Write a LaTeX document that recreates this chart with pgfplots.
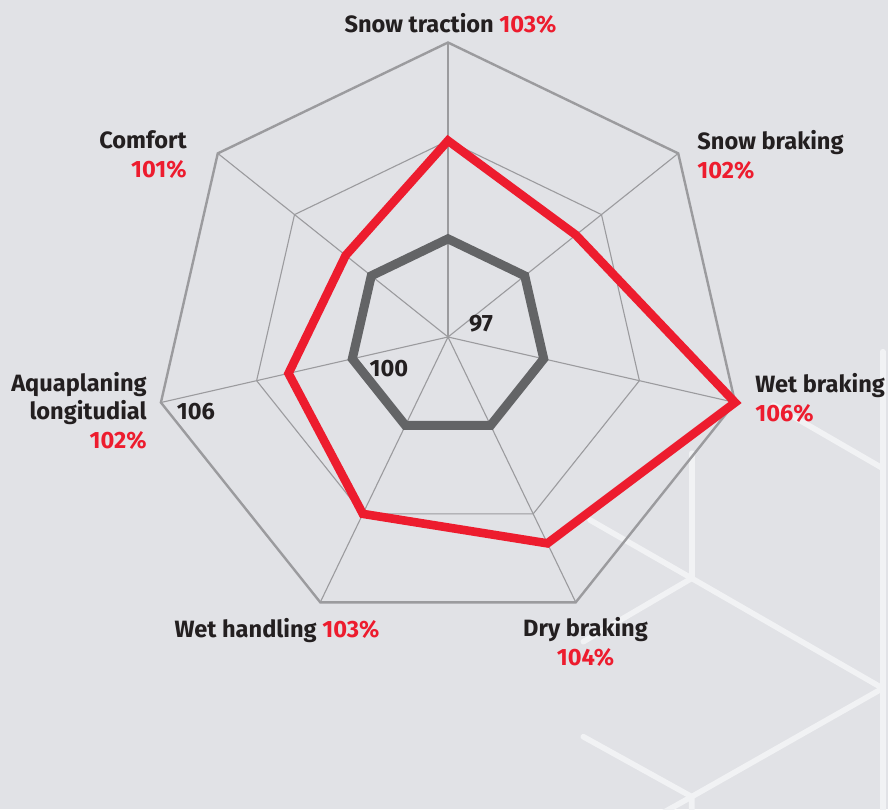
\documentclass[border=0pt]{standalone}
\usepackage{pgfplots}
\pgfplotsset{compat=1.18}
\usepackage{pgfplotstable}
\usepackage{fontspec}
\setmainfont{Fira Sans}
\definecolor{bg}{HTML}{E1E2E6}
\definecolor{tred}{HTML}{ED1C2E}
\definecolor{dgray}{HTML}{636466}
\definecolor{ggray}{HTML}{9B9B9E}
\definecolor{txt}{HTML}{231F20}
\definecolor{deco}{HTML}{F1F2F4}

% angle (deg) of each axis, tyre result, reference (100)
\pgfplotstableread{
a v r
90 103 100
38.5714 102 100
-12.8571 106 100
-64.2857 104 100
-115.7143 103 100
-167.1429 102 100
141.4286 101 100
90 103 100
38.5714 102 100
}\radar

\begin{document}
\begin{tikzpicture}
\path[use as bounding box] (0,0) rectangle (444pt,404.5pt);
\fill[bg] (0,0) rectangle (444pt,404.5pt);
\begin{scope}[shift={(0pt,404.5pt)}, x=0.5pt, y=-0.5pt]
\begin{scope}[draw=deco, line width=2.8pt, line cap=round, line join=round]
\draw (882.7,351.7) -- (882.7,830);
\draw (773.3,405) -- (882.7,468.3);
\draw (691.7,453.3) -- (691.7,578.3);
\draw (590,520) -- (691.7,578.3) -- (882.7,688.3);
\draw (691.7,578.3) -- (583.3,641.7);
\draw (882.7,688.3) -- (691.7,796.7) -- (650,820);
\draw (583.3,736.7) -- (691.7,796.7) -- (691.7,830);
\end{scope}
\end{scope}

\begin{axis}[at={(0,0)}, anchor=south west, width=444pt, height=404.5pt,
  scale only axis, xmin=-448, xmax=440, ymin=-472, ymax=337,
  axis lines=none, clip=false]
\pgfplotsinvokeforeach{90,38.5714,-12.8571,-64.2857,-115.7143,-167.1429,141.4286}{
  \draw[ggray, line width=0.55pt] (axis cs:0,0) -- (axis cs:{294.5*cos(#1)},{294.5*sin(#1)});
}
% outer ring (106)
\addplot[ggray, line width=1.2pt, line join=miter, no markers]
  table[x expr={(106-97)*32.72*cos(\thisrow{a})}, y expr={(106-97)*32.72*sin(\thisrow{a})}] {\radar};
% middle ring (103)
\addplot[ggray, line width=0.55pt, line join=miter, no markers]
  table[x expr={(103-97)*32.72*cos(\thisrow{a})}, y expr={(103-97)*32.72*sin(\thisrow{a})}] {\radar};
% reference 100
\addplot[dgray, line width=4.5pt, line join=miter, no markers]
  table[x expr={(\thisrow{r}-97)*32.72*cos(\thisrow{a})}, y expr={(\thisrow{r}-97)*32.72*sin(\thisrow{a})}] {\radar};
% tyre
\addplot[tred, line width=4.3pt, line join=miter, no markers]
  table[x expr={(\thisrow{v}-97)*32.72*cos(\thisrow{a})}, y expr={(\thisrow{v}-97)*32.72*sin(\thisrow{a})}] {\radar};
\end{axis}

\begin{scope}[shift={(0pt,404.5pt)}, x=0.5pt, y=-0.5pt, font=\fontsize{11.8}{13}\selectfont\bfseries, inner sep=0pt, text=txt]
\node[anchor=base] at (450.5,33) {Snow traction \textcolor{tred}{103\%}};
\node[anchor=base west] at (697,150) {Snow braking};
\node[anchor=base west, text=tred] at (697,179) {102\%};
\node[anchor=base east] at (187,149) {Comfort};
\node[anchor=base east, text=tred] at (187,178) {101\%};
\node[anchor=base west] at (755,393) {Wet braking};
\node[anchor=base west, text=tred] at (755,422) {106\%};
\node[anchor=base east] at (147,392) {Aquaplaning};
\node[anchor=base east] at (147,420) {longitudial};
\node[anchor=base east, text=tred] at (147,449) {102\%};
\node[anchor=base] at (277,637) {Wet handling \textcolor{tred}{103\%}};
\node[anchor=base] at (585.5,636) {Dry braking};
\node[anchor=base, text=tred] at (585.5,665) {104\%};
\node at (481,323.5) {97};
\node at (389,368.5) {100};
\node at (196,411.5) {106};
\end{scope}
\end{tikzpicture}
\end{document}
